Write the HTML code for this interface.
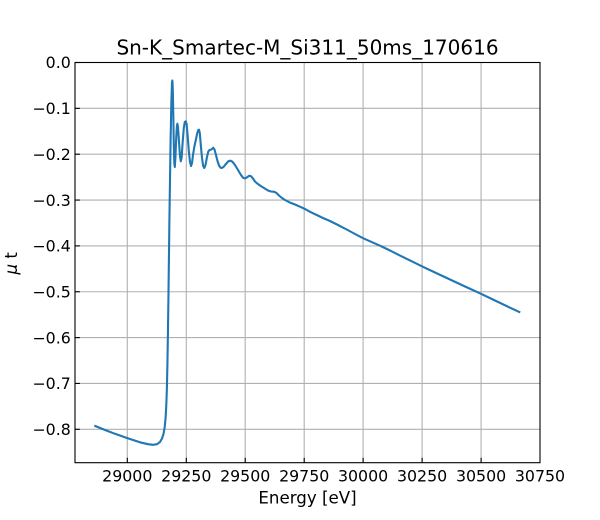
<!DOCTYPE html>
<html><head><meta charset="utf-8"><style>
html,body{margin:0;padding:0;background:#fff;}
svg{display:block;}
text{font-family:"DejaVu Sans","Liberation Sans",sans-serif;fill:#000;}
</style></head><body>
<svg width="600" height="520" viewBox="0 0 600 520" xmlns="http://www.w3.org/2000/svg">
<rect width="600" height="520" fill="#fff"/>
<g stroke="#b0b0b0" stroke-width="1.1" fill="none">
<line x1="127.3" y1="62.5" x2="127.3" y2="462.7"/>
<line x1="186.3" y1="62.5" x2="186.3" y2="462.7"/>
<line x1="245.2" y1="62.5" x2="245.2" y2="462.7"/>
<line x1="304.2" y1="62.5" x2="304.2" y2="462.7"/>
<line x1="363.1" y1="62.5" x2="363.1" y2="462.7"/>
<line x1="422.1" y1="62.5" x2="422.1" y2="462.7"/>
<line x1="481.1" y1="62.5" x2="481.1" y2="462.7"/>
<line x1="75" y1="108.35" x2="540" y2="108.35"/>
<line x1="75" y1="154.2" x2="540" y2="154.2"/>
<line x1="75" y1="200.05" x2="540" y2="200.05"/>
<line x1="75" y1="245.9" x2="540" y2="245.9"/>
<line x1="75" y1="291.75" x2="540" y2="291.75"/>
<line x1="75" y1="337.6" x2="540" y2="337.6"/>
<line x1="75" y1="383.45" x2="540" y2="383.45"/>
<line x1="75" y1="429.3" x2="540" y2="429.3"/>
</g>
<polyline fill="none" stroke="#1f77b4" stroke-width="2.1" stroke-linejoin="round" stroke-linecap="square" points="
95.3,426 105,430 115,433.8 127.7,438.2 140,442.3 148,444.2 153,444.8 157,444.2 160,442 162,438.5 163.5,434 164.7,427 165.6,418 166.3,405 166.9,388 167.4,365 167.9,335 168.4,300 168.9,260 169.4,220 170,180 170.6,140 171.3,105 172,82 172.4,80.5 172.8,90 173.3,115 173.8,145 174.3,163 174.8,167 175.4,158 176.2,138 176.9,126 177.4,123.7 178,127 179,142 180,156 180.8,161.3 181.6,158 182.6,143 183.8,128 184.8,122 185.7,121.3 186.6,124 187.6,135 188.8,151 190,162 191,166 192,163 193,155 194.3,147 195.8,140 197.3,133 198.3,130 199,129.7 199.8,133 200.8,145 202,158 203.2,166 204.3,168 205.5,165 207,157 208.3,151.5 209.5,150 211,149.6 212,149 213.3,147.8 214.5,149.5 216,155 217.5,161 219,165.5 220.5,167.7 221.7,168 223.5,167 225.5,164.5 228.3,161.3 230.5,160.7 232.5,161.8 235,165 238,170 241,175 243.3,178 245.5,178.3 247.5,177 249.3,175.7 251,176.2 253,178.5 255,181.5 257,183.3 260,185.5 264,188 268,190.5 271,191.5 274.3,191.8 276.5,193 279,195.5 282,198 285,200 290,202.6 295,204.5 300,206.7 305,209 310,211.8 316.7,215 323,218 330,221 338,225 346.7,229.5 355,234 363.3,238.3 372,242.2 380,245.7 390,250.5 400,255.6 410,260.4 422.7,266.7 435,272.5 450,279.5 465,286.5 480,293.3 495,300.5 510,307.7 519.3,312"/>
<g stroke="#000" stroke-width="1.1">
<line x1="127.3" y1="462.7" x2="127.3" y2="457.8"/>
<line x1="186.3" y1="462.7" x2="186.3" y2="457.8"/>
<line x1="245.2" y1="462.7" x2="245.2" y2="457.8"/>
<line x1="304.2" y1="462.7" x2="304.2" y2="457.8"/>
<line x1="363.1" y1="462.7" x2="363.1" y2="457.8"/>
<line x1="422.1" y1="462.7" x2="422.1" y2="457.8"/>
<line x1="481.1" y1="462.7" x2="481.1" y2="457.8"/>
<line x1="75" y1="62.5" x2="79.9" y2="62.5"/>
<line x1="75" y1="108.35" x2="79.9" y2="108.35"/>
<line x1="75" y1="154.2" x2="79.9" y2="154.2"/>
<line x1="75" y1="200.05" x2="79.9" y2="200.05"/>
<line x1="75" y1="245.9" x2="79.9" y2="245.9"/>
<line x1="75" y1="291.75" x2="79.9" y2="291.75"/>
<line x1="75" y1="337.6" x2="79.9" y2="337.6"/>
<line x1="75" y1="383.45" x2="79.9" y2="383.45"/>
<line x1="75" y1="429.3" x2="79.9" y2="429.3"/>
</g>
<rect x="75" y="62.5" width="465" height="400.2" fill="none" stroke="#000" stroke-width="1.1"/>
<g font-size="15.8" text-anchor="middle">
<text x="127.3" y="481.7">29000</text>
<text x="186.3" y="481.7">29250</text>
<text x="245.2" y="481.7">29500</text>
<text x="304.2" y="481.7">29750</text>
<text x="363.1" y="481.7">30000</text>
<text x="422.1" y="481.7">30250</text>
<text x="481.1" y="481.7">30500</text>
<text x="540" y="481.7">30750</text>
</g>
<g font-size="15.8" text-anchor="end">
<text x="70.8" y="68.2">0.0</text>
<text x="70.8" y="114.05">−0.1</text>
<text x="70.8" y="159.9">−0.2</text>
<text x="70.8" y="205.75">−0.3</text>
<text x="70.8" y="251.6">−0.4</text>
<text x="70.8" y="297.45">−0.5</text>
<text x="70.8" y="343.3">−0.6</text>
<text x="70.8" y="389.15">−0.7</text>
<text x="70.8" y="435">−0.8</text>
</g>
<text x="307.5" y="54.3" font-size="20" text-anchor="middle">Sn-K_Smartec-M_Si311_50ms_170616</text>
<text x="307.5" y="503.5" font-size="16.67" text-anchor="middle">Energy [eV]</text>
<text transform="translate(17,263.3) rotate(-90)" font-size="16.67" text-anchor="middle"><tspan font-style="italic">μ</tspan> t</text>
</svg>
</body></html>
